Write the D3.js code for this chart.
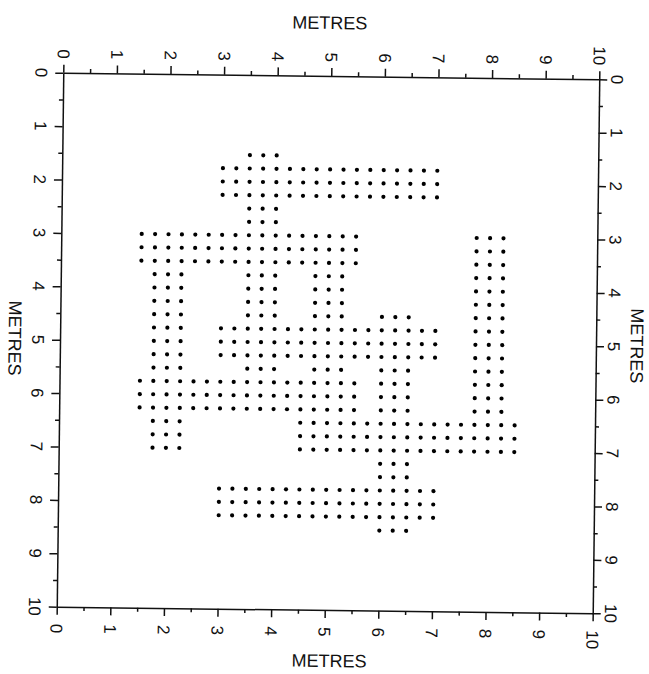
<!DOCTYPE html>
<html><head><meta charset="utf-8">
<script src="https://cdn.jsdelivr.net/npm/d3@7/dist/d3.min.js"></script>
<style>body{margin:0;background:#fff}svg{display:block}</style>
</head><body>
<svg id="chart" width="649" height="674"></svg>
<script>
// ---- data ----
const majorTicks = [0,1,2,3,4,5,6,7,8,9,10];
const minorTicks = [0.5,1.5,2.5,3.5,4.5,5.5,6.5,7.5,8.5,9.5];
const tickLabels = ["0","1","2","3","4","5","6","7","8","9","10"];
const axisTitle = "METRES";
// survey grid positions (metres)
const gridX = [1.5,1.75,2,2.25,2.5,2.75,3,3.25,3.5,3.75,4,4.25,4.5,4.75,5,5.25,5.5,5.75,6,6.25,6.5,6.75,7,7.25,7.5,7.75,8,8.25,8.5];
const gridY = [1.5,1.75,2,2.25,2.5,2.75,3,3.25,3.5,3.75,4,4.25,4.5,4.75,5,5.25,5.5,5.75,6,6.25,6.5,6.75,7,7.25,7.5,7.75,8,8.25,8.5];
// one string per gridY row, one character per gridX column: "o" = point present
const pattern = [
  "........ooo..................", // 1.5
  "......ooooooooooooooooo......", // 1.75
  "......ooooooooooooooooo......", // 2.0
  "......ooooooooooooooooo......", // 2.25
  "........ooo..................", // 2.5
  "........ooo..................", // 2.75
  "ooooooooooooooooo........ooo.", // 3.0
  "ooooooooooooooooo........ooo.", // 3.25
  "ooooooooooooooooo........ooo.", // 3.5
  ".ooo....ooo..ooo.........ooo.", // 3.75
  ".ooo....ooo..ooo.........ooo.", // 4.0
  ".ooo....ooo..ooo.........ooo.", // 4.25
  ".ooo....ooo..ooo..ooo....ooo.", // 4.5
  ".ooo..ooooooooooooooooo..ooo.", // 4.75
  ".ooo..ooooooooooooooooo..ooo.", // 5.0
  ".ooo..ooooooooooooooooo..ooo.", // 5.25
  ".ooo....ooo..ooo..ooo....ooo.", // 5.5
  "ooooooooooooooooo.ooo....ooo.", // 5.75
  "ooooooooooooooooo.ooo....ooo.", // 6.0
  "ooooooooooooooooo.ooo....ooo.", // 6.25
  ".ooo........ooooooooooooooooo", // 6.5
  ".ooo........ooooooooooooooooo", // 6.75
  ".ooo........ooooooooooooooooo", // 7.0
  "..................ooo........", // 7.25
  "..................ooo........", // 7.5
  "......ooooooooooooooooo......", // 7.75
  "......ooooooooooooooooo......", // 8.0
  "......ooooooooooooooooo......", // 8.25
  "..................ooo........"  // 8.5
];

// ---- build points ----
const points = [];
pattern.forEach((row, j) => {
  for (let i = 0; i < row.length && i < gridX.length; i++) {
    if (row[i] === "o") points.push({x: gridX[i], y: gridY[j]});
  }
});

// ---- layout ----
const X0 = 60, X1 = 596, Y0 = 76, Y1 = 610;
const x = d3.scaleLinear().domain([0,10]).range([X0,X1]);
const y = d3.scaleLinear().domain([0,10]).range([Y0,Y1]);

const svg = d3.select("#chart");
const g = svg.append("g").attr("transform","rotate(0.7,328,343)");

const axisDefs = [
  [() => d3.axisTop(x), `translate(0,${Y0})`],
  [() => d3.axisBottom(x), `translate(0,${Y1})`],
  [() => d3.axisLeft(y), `translate(${X0},0)`],
  [() => d3.axisRight(y), `translate(${X1},0)`]
];
axisDefs.forEach(([mk, tr]) => {
  const a = g.append("g").attr("transform", tr)
    .call(mk().tickValues(majorTicks).tickSize(8).tickSizeOuter(0).tickFormat(""));
  const b = g.append("g").attr("transform", tr)
    .call(mk().tickValues(minorTicks).tickSize(4).tickSizeOuter(0).tickFormat(""));
  b.select(".domain").remove();
  [a,b].forEach(s => {
    s.selectAll("path,line").attr("stroke","#111").attr("stroke-width",1.5);
  });
});

const font = "'Liberation Sans', Arial, sans-serif";
function rotLabel(px, py, txt, anchor, size) {
  g.append("text")
    .attr("x", px).attr("y", py)
    .attr("transform", `rotate(90,${px},${py})`)
    .attr("text-anchor", anchor)
    .attr("dy", "0.35em")
    .attr("font-family", font)
    .attr("font-size", size)
    .attr("fill", "#111")
    .text(txt);
}
majorTicks.forEach((v, k) => {
  rotLabel(x(v), Y0 - 14, tickLabels[k], "end", 17);
  rotLabel(x(v), Y1 + 17, tickLabels[k], "start", 17);
  rotLabel(X0 - 22, y(v), tickLabels[k], "middle", 17);
  rotLabel(X1 + 18, y(v), tickLabels[k], "middle", 17);
});

// axis titles
g.append("text").attr("x", 326).attr("y", 29).attr("text-anchor","middle")
  .attr("font-family", font).attr("font-size", 18).attr("fill","#111").text(axisTitle);
g.append("text").attr("x", 333).attr("y", 667).attr("text-anchor","middle")
  .attr("font-family", font).attr("font-size", 18).attr("fill","#111").text(axisTitle);
rotLabel(15, 342, axisTitle, "middle", 18);
rotLabel(637, 342, axisTitle, "middle", 18);

// points
g.append("g").selectAll("circle").data(points).join("circle")
  .attr("cx", d => x(d.x)).attr("cy", d => y(d.y)).attr("r", 2.1).attr("fill", "#000");
</script>
</body></html>
